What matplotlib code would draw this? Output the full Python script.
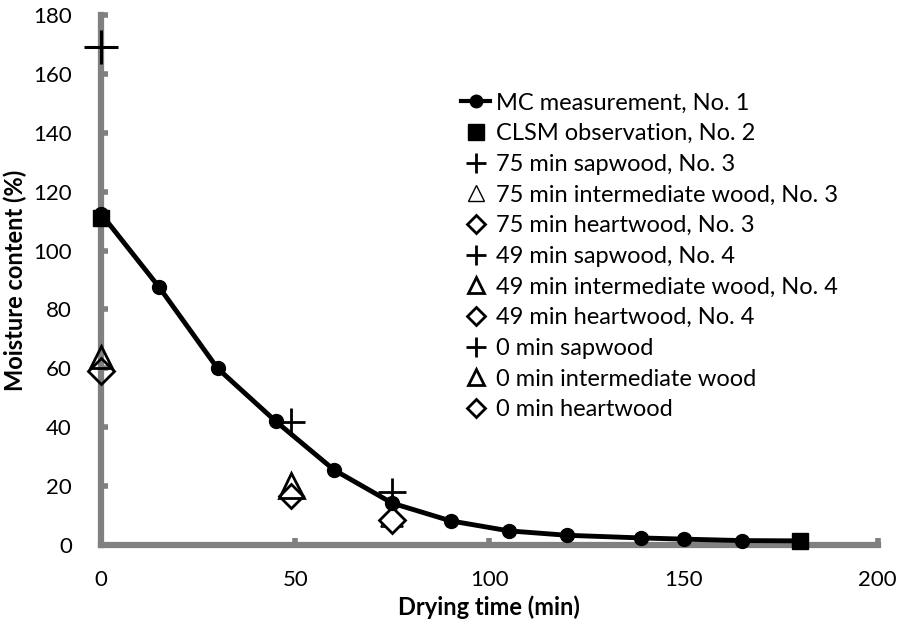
import matplotlib
matplotlib.use("Agg")
import matplotlib.pyplot as plt
from matplotlib.lines import Line2D

plt.rcParams['font.family'] = ['Lato', 'DejaVu Sans']

# MC measurement, No. 1
mc_time = [0, 15, 30, 45, 60, 75, 90, 105, 120, 139, 150, 165, 180]
mc_val = [112.5, 87.5, 60.0, 42.0, 25.5, 14.2, 8.2, 4.8, 3.3, 2.4, 2.0, 1.5, 1.4]

# CLSM observation, No. 2
clsm_time = [0, 180]
clsm_val = [111.0, 1.4]

# Individual wood sections
sap75 = (75, 18.0)
inter75 = (75, 10.0)
heart75 = (75, 8.5)
sap49 = (49, 41.8)
inter49 = (49, 20.5)
heart49 = (49, 16.5)
sap0 = (0, 169.0)
inter0 = (0, 64.0)
heart0 = (0, 59.0)

labels = ['MC measurement, No. 1', 'CLSM observation, No. 2',
          '75 min sapwood, No. 3', '75 min intermediate wood, No. 3',
          '75 min heartwood, No. 3', '49 min sapwood, No. 4',
          '49 min intermediate wood, No. 4', '49 min heartwood, No. 4',
          '0 min sapwood', '0 min intermediate wood', '0 min heartwood']

gray = '#808080'

fig = plt.figure(figsize=(8.98, 6.24), dpi=100)
ax = fig.add_axes([0.1125, 0.1266, 0.865, 0.8494])

kw = dict(ls='none', clip_on=False)
ax.plot(mc_time, mc_val, '-o', color='black', lw=3.5, ms=10, zorder=5, clip_on=False)
ax.plot(clsm_time, clsm_val, 's', color='black', ms=11, zorder=6, **kw)

ax.plot(*sap75, '+', color='black', ms=20, mew=2, zorder=4, **kw)
ax.plot(*inter75, '^', mfc='white', mec='black', ms=16, mew=1.2, zorder=3, **kw)
ax.plot(*heart75, 'D', mfc='white', mec='black', ms=13, mew=2, zorder=3, **kw)
ax.plot(*sap49, '+', color='black', ms=20, mew=2, zorder=4, **kw)
ax.plot(*inter49, '^', mfc='none', mec='black', ms=18, mew=2, zorder=3, **kw)
ax.plot(*heart49, 'D', mfc='none', mec='black', ms=12, mew=2, zorder=3, **kw)
ax.plot(*sap0, '+', color='black', ms=24, mew=2.2, zorder=4, **kw)
ax.plot(*inter0, '^', mfc='none', mec='black', ms=16, mew=2, zorder=3, **kw)
ax.plot(*heart0, 'D', mfc='none', mec='black', ms=13, mew=2, zorder=3, **kw)

ax.set_xlim(0, 200)
ax.set_ylim(0, 180)
ax.set_xticks(range(0, 201, 50))
ax.set_yticks(range(0, 181, 20))

for s in ['top', 'right']:
    ax.spines[s].set_visible(False)
for s in ['left', 'bottom']:
    ax.spines[s].set_color(gray)
    ax.spines[s].set_linewidth(4.5)
    ax.spines[s].set_zorder(1)

ax.tick_params(axis='both', direction='in', length=5, width=4, color=gray,
               labelsize=16)
ax.tick_params(axis='x', pad=18)
ax.tick_params(axis='y', pad=21)

ax.set_xlabel('Drying time (min)', fontsize=17, fontweight='bold', labelpad=4)
ax.set_ylabel('Moisture content (%)', fontsize=17, fontweight='bold', labelpad=4)

handles = [
    Line2D([], [], color='black', marker='o', lw=3, ms=9),
    Line2D([], [], color='black', marker='s', ls='none', ms=11),
    Line2D([], [], color='black', marker='+', ls='none', ms=14, mew=2),
    Line2D([], [], mfc='white', mec='black', marker='^', ls='none', ms=12, mew=1),
    Line2D([], [], mfc='white', mec='black', marker='D', ls='none', ms=9, mew=2),
    Line2D([], [], color='black', marker='+', ls='none', ms=14, mew=2),
    Line2D([], [], mfc='white', mec='black', marker='^', ls='none', ms=12, mew=2),
    Line2D([], [], mfc='white', mec='black', marker='D', ls='none', ms=9, mew=2),
    Line2D([], [], color='black', marker='+', ls='none', ms=14, mew=2),
    Line2D([], [], mfc='white', mec='black', marker='^', ls='none', ms=12, mew=2),
    Line2D([], [], mfc='white', mec='black', marker='D', ls='none', ms=9, mew=2),
]
fig.legend(handles, labels, loc='upper left', bbox_to_anchor=(452 / 898, 1 - 83 / 624),
           frameon=False, fontsize=17, handlelength=1.2, handletextpad=0.25,
           labelspacing=0.41, borderaxespad=0)

fig.savefig('out.png', dpi=100)
